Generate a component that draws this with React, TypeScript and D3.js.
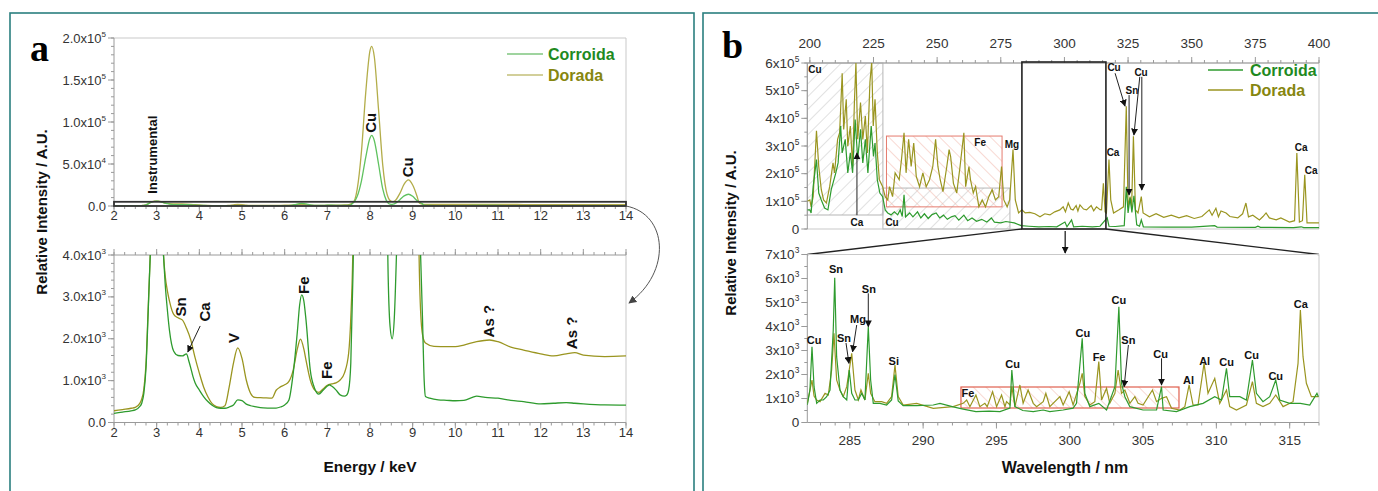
import React from 'react';
import * as d3 from 'd3';

// ---------------- DATA ----------------
// Panel a: XRF spectra (energy keV, intensity)
const xrfCorroida: [number, number][] = [
  [2.0,220],[2.2,250],[2.4,280],[2.5,300],[2.6,380],[2.65,460],[2.7,700],[2.75,1300],[2.8,2600],[2.85,4000],[2.9,5000],[2.95,5600],[3.0,5800],[3.05,5600],[3.1,5000],[3.16,4000],[3.2,3300],[3.25,2700],[3.3,2200],[3.4,1700],[3.5,1600],[3.6,1590],[3.7,1640],[3.75,1480],[3.8,1300],[3.85,1100],[3.9,950],[4.0,776],[4.1,620],[4.2,500],[4.3,410],[4.4,355],[4.5,340],[4.6,340],[4.7,370],[4.8,420],[4.9,540],[5.0,520],[5.1,440],[5.2,400],[5.3,380],[5.5,350],[5.7,345],[5.8,345],[5.9,370],[6.0,420],[6.1,540],[6.2,1175],[6.3,2200],[6.35,2800],[6.4,3050],[6.45,2900],[6.5,2450],[6.6,1250],[6.7,820],[6.8,680],[6.9,770],[7.0,870],[7.05,900],[7.1,870],[7.2,780],[7.3,660],[7.4,630],[7.45,650],[7.5,780],[7.55,1420],[7.6,3500],[7.65,6500],[7.7,11500],[7.8,30000],[7.9,58000],[8.0,81000],[8.04,84000],[8.1,78000],[8.2,50000],[8.3,20000],[8.38,7000],[8.42,3800],[8.47,2300],[8.52,2000],[8.57,2500],[8.62,4000],[8.7,7500],[8.8,12000],[8.9,14000],[9.0,11500],[9.1,6500],[9.18,4200],[9.23,2500],[9.27,1000],[9.3,620],[9.4,580],[9.6,540],[9.8,530],[10.0,520],[10.2,530],[10.4,600],[10.5,630],[10.7,600],[11.0,580],[11.3,530],[11.6,500],[12.0,445],[12.3,460],[12.6,475],[12.8,460],[13.0,445],[13.5,420],[14.0,415]
];
const xrfDorada: [number, number][] = [
  [2.0,280],[2.2,310],[2.4,340],[2.5,360],[2.6,450],[2.65,560],[2.7,800],[2.75,1400],[2.8,2700],[2.85,4000],[2.9,5100],[2.95,5700],[3.0,5900],[3.05,5700],[3.1,5100],[3.16,4000],[3.2,3500],[3.25,3150],[3.3,2900],[3.4,2580],[3.5,2500],[3.6,2450],[3.7,2250],[3.8,1970],[3.9,1550],[4.0,1180],[4.1,850],[4.2,616],[4.3,450],[4.4,380],[4.5,360],[4.6,400],[4.7,850],[4.8,1420],[4.9,1780],[5.0,1530],[5.1,1015],[5.2,700],[5.3,600],[5.5,590],[5.7,580],[5.8,770],[5.9,850],[6.0,900],[6.1,980],[6.2,1250],[6.3,1770],[6.37,1990],[6.45,1750],[6.5,1490],[6.6,1015],[6.7,780],[6.8,720],[6.9,800],[7.0,890],[7.1,920],[7.2,945],[7.3,1015],[7.4,1180],[7.5,1660],[7.55,2500],[7.6,4200],[7.65,8500],[7.7,20000],[7.8,65000],[7.9,135000],[8.0,185000],[8.04,190000],[8.1,178000],[8.2,115000],[8.3,48000],[8.4,14000],[8.5,5500],[8.55,5200],[8.6,7000],[8.7,15000],[8.8,26000],[8.9,31000],[9.0,25000],[9.1,12000],[9.15,4000],[9.2,2400],[9.25,2000],[9.3,1900],[9.5,1820],[9.8,1810],[10.0,1810],[10.2,1850],[10.5,1930],[10.8,1970],[11.0,1930],[11.3,1800],[11.6,1730],[12.0,1640],[12.3,1590],[12.6,1640],[12.8,1670],[13.0,1610],[13.5,1575],[14.0,1590]
];

// Panel b: LIBS spectra, full range (wavelength nm, intensity)
const libsCorroida: [number, number][] = [
  [199,69e3],[200,69e3],[200.5,58e3],[201.3,153e3],[202.6,251e3],[203.5,130e3],[204.5,105e3],[205.8,76e3],[207.1,69e3],[208.4,142e3],[210.2,203e3],[211.1,239e3],[212.1,372e3],[212.7,275e3],[213.9,324e3],[214.9,203e3],[215.9,275e3],[216.8,203e3],[217.8,396e3],[218.8,251e3],[219.9,360e3],[220.8,239e3],[221.8,324e3],[222.8,203e3],[224.1,372e3],[225.0,262e3],[225.6,311e3],[226.5,178e3],[227.5,130e3],[228.6,117e3],[229.6,69e3],[230.6,58e3],[231.9,51e3],[233.2,62e3],[234.5,51e3],[235.5,69e3],[236.3,45e3],[237.0,124e3],[237.6,44e3],[239.2,58e3],[240.5,44e3],[242.3,62e3],[243.6,40e3],[245.0,55e3],[246.5,38e3],[248.0,52e3],[249.6,58e3],[251.0,40e3],[252.5,50e3],[254.0,35e3],[255.6,44e3],[257.0,48e3],[258.5,32e3],[260.5,50e3],[262.0,30e3],[263.7,40e3],[265.5,28e3],[267.5,35e3],[269.5,25e3],[271.3,40e3],[272.5,25e3],[275,22e3],[277,27e3],[280.3,22e3],[283,12e3],[286,10e3],[290,8e3],[294,9e3],[297,8e3],[300.2,25e3],[301,8e3],[302.8,33e3],[303.6,8e3],[307,10e3],[311,8e3],[314,10e3],[316.8,40e3],[317.5,10e3],[320,9e3],[323.5,12e3],[324.3,153e3],[325.0,58e3],[325.8,113e3],[326.5,60e3],[327.3,120e3],[328.4,15e3],[329.5,10e3],[330.2,33e3],[331,8e3],[340,7e3],[350,7e3],[359,12e3],[360,7e3],[375,6e3],[376,10e3],[377,6e3],[390,5e3],[393,8e3],[394,5e3],[400,5e3]
];
const libsDorada: [number, number][] = [
  [199,100e3],[200,105e3],[200.5,80e3],[201.3,117e3],[202.6,355e3],[203.5,226e3],[204.5,142e3],[205.4,105e3],[206.5,94e3],[207.8,154e3],[209.1,239e3],[209.7,203e3],[210.9,324e3],[211.7,348e3],[212.7,563e3],[213.3,360e3],[214.3,469e3],[214.9,299e3],[215.9,372e3],[216.8,226e3],[217.5,457e3],[218.1,600e3],[218.8,324e3],[219.9,457e3],[220.8,324e3],[221.8,408e3],[222.6,275e3],[223.6,530e3],[224.3,605e3],[224.9,372e3],[225.6,469e3],[226.5,275e3],[227.3,178e3],[228.6,153e3],[229.6,117e3],[230.6,105e3],[231.3,153e3],[232.5,117e3],[233.5,203e3],[235.1,178e3],[236.0,251e3],[237.0,348e3],[237.8,203e3],[238.8,324e3],[239.8,226e3],[240.8,311e3],[241.8,190e3],[243.1,153e3],[244.4,203e3],[245.7,153e3],[247.0,178e3],[248.3,226e3],[249.4,324e3],[250.3,226e3],[251.2,178e3],[252.3,135e3],[253.8,226e3],[254.7,287e3],[255.3,262e3],[256.4,165e3],[257.7,130e3],[259.0,226e3],[260.5,348e3],[261.2,153e3],[262.5,226e3],[263.1,178e3],[264.2,130e3],[265.1,153e3],[266.4,80e3],[267.7,105e3],[269.0,80e3],[270.3,117e3],[271.6,142e3],[272.9,105e3],[274.2,117e3],[275.3,226e3],[276.2,105e3],[277.5,80e3],[278.5,105e3],[279.8,287e3],[280.7,105e3],[282.0,58e3],[283.3,69e3],[284.6,58e3],[286.4,60e3],[288.4,55e3],[290.4,44e3],[292.3,55e3],[294.3,51e3],[296.2,62e3],[298.2,69e3],[299.5,80e3],[300.4,62e3],[301.5,94e3],[302.5,72e3],[303.4,69e3],[304.6,85e3],[305.3,65e3],[306.1,87e3],[307.5,72e3],[308.7,69e3],[310.5,85e3],[311.5,66e3],[312.6,80e3],[314.0,70e3],[314.6,69e3],[315.3,165e3],[316.0,62e3],[316.5,58e3],[317.5,251e3],[318.2,105e3],[319.3,58e3],[321.3,69e3],[323.2,80e3],[324.3,444e3],[325.0,80e3],[325.8,117e3],[326.4,80e3],[327.1,335e3],[327.9,69e3],[328.9,58e3],[330.2,117e3],[330.9,58e3],[333.4,44e3],[336,55e3],[339,42e3],[342,50e3],[345,40e3],[348,48e3],[351,38e3],[354,45e3],[356.9,69e3],[358,50e3],[359.5,75e3],[360.5,44e3],[361.5,65e3],[363.5,58e3],[365,45e3],[368.1,40e3],[370,55e3],[371.3,94e3],[372.3,44e3],[374,50e3],[376.6,33e3],[378,45e3],[379.2,58e3],[380.5,40e3],[383.2,33e3],[385,40e3],[388.4,25e3],[390.4,30e3],[391.3,275e3],[392.3,25e3],[393.5,30e3],[394.4,196e3],[395.3,22e3],[400,22e3]
];

// Panel b: LIBS zoom 282-317 nm
const libsZoomCorroida: [number, number][] = [
  [282.1,729],[282.28,1354],[282.42,3160],[282.56,1493],[282.74,799],[282.97,938],[283.19,938],[283.42,1076],[283.65,1354],[283.87,3854],[283.97,6035],[284.10,2743],[284.33,1354],[284.55,1076],[284.79,938],[284.96,2188],[285.13,1215],[285.35,938],[285.58,938],[285.81,1215],[286.03,938],[286.26,3993],[286.42,1771],[286.60,799],[287.06,799],[287.51,729],[287.85,938],[288.08,2000],[288.30,900],[288.64,700],[289.56,700],[290.69,729],[291.15,799],[292.05,650],[292.73,560],[293.60,451],[294.5,470],[295.24,451],[295.92,600],[296.05,2188],[296.26,660],[296.8,500],[297.51,451],[298.19,521],[298.64,451],[299.55,521],[300.23,600],[300.46,799],[300.85,3507],[301.03,1215],[301.37,660],[301.98,799],[302.51,521],[303.08,1493],[303.35,4826],[303.53,1632],[303.76,1076],[304.10,660],[305.00,521],[305.92,521],[306.26,1493],[306.37,521],[307.28,451],[308.19,660],[309.09,799],[309.89,1076],[310.35,938],[310.69,2257],[310.91,1076],[311.60,1076],[312.05,938],[312.46,2604],[312.73,1215],[313.18,868],[313.64,1076],[314.05,1771],[314.32,938],[315.00,799],[315.73,799],[316.37,729],[316.86,1215],[316.96,1076]
];
const libsZoomDorada: [number, number][] = [
  [282.1,799],[282.42,1771],[282.56,1100],[282.74,938],[282.97,868],[283.31,1215],[283.53,1146],[283.76,2188],[283.92,3715],[284.10,1771],[284.33,1354],[284.55,1076],[284.79,1493],[285.13,2882],[285.35,1354],[285.58,938],[285.76,1354],[286.03,938],[286.26,2049],[286.42,1215],[286.71,868],[287.17,868],[287.51,799],[287.85,1076],[288.08,2396],[288.30,1076],[288.64,729],[289.56,799],[290.69,590],[292.05,660],[292.73,799],[292.97,938],[293.19,660],[293.60,1146],[293.87,660],[294.21,799],[294.37,660],[294.74,1285],[295.01,660],[295.35,1146],[295.58,660],[295.69,868],[295.92,729],[296.05,1493],[296.26,660],[296.60,1563],[296.82,799],[297.16,1354],[297.51,799],[297.74,660],[298.19,868],[298.37,1215],[298.64,660],[299.33,1076],[299.55,729],[299.96,1285],[300.23,729],[300.69,1632],[300.85,2049],[301.03,1076],[301.37,729],[301.71,868],[301.98,2535],[302.17,938],[302.51,1424],[302.73,799],[303.08,1215],[303.30,2188],[303.53,1215],[303.76,1354],[304.10,799],[304.44,1076],[304.66,799],[305.00,729],[305.64,1354],[305.92,868],[306.26,1007],[306.60,1076],[306.94,590],[307.51,521],[307.85,660],[308.14,1563],[308.41,729],[308.75,729],[309.16,2465],[309.43,1215],[309.89,1840],[310.23,799],[310.69,1354],[310.91,660],[311.37,521],[312.05,729],[312.46,1702],[312.73,799],[313.18,660],[313.64,799],[314.05,1146],[314.55,660],[315.23,868],[315.57,2465],[315.73,4688],[315.91,2743],[316.14,1632],[316.48,1076],[316.96,1076]
];

const seriesNames = ['Corroida', 'Dorada'];

// Tick values
const energyTicks = [2, 3, 4, 5, 6, 7, 8, 9, 10, 11, 12, 13, 14];
const xrfTopTicks = [0, 5e4, 1e5, 1.5e5, 2e5];
const xrfBotTicks = [0, 1000, 2000, 3000, 4000];
const wlTopTicks = [200, 225, 250, 275, 300, 325, 350, 375, 400];
const libsTopTicks = [0, 1e5, 2e5, 3e5, 4e5, 5e5, 6e5];
const wlBotTicks = [285, 290, 295, 300, 305, 310, 315];
const libsBotTicks = [0, 1000, 2000, 3000, 4000, 5000, 6000, 7000];

// Annotations (data coordinates)
const xrfTopLabels = [
  { t: 'Instrumental', x: 2.91, y: 6.1e4, s: 13 },
  { t: 'Cu', x: 8.02, y: 9.9e4, s: 15 },
  { t: 'Cu', x: 8.87, y: 4.6e4, s: 15 },
];
const xrfBotLabels = [
  { t: 'Sn', x: 3.55, y: 2760 },
  { t: 'Ca', x: 4.13, y: 2640 },
  { t: 'V', x: 4.81, y: 2020 },
  { t: 'Fe', x: 6.45, y: 3280 },
  { t: 'Fe', x: 6.97, y: 1250 },
  { t: 'As ?', x: 10.77, y: 2420 },
  { t: 'As ?', x: 12.73, y: 2140 },
];
const xrfBotArrows = [{ x1: 4.02, y1: 2305, x2: 3.73, y2: 1684 }];

const libsTopLabels = [
  { t: 'Cu', x: 202.0, y: 575e3 }, { t: 'Ca', x: 218.5, y: 22e3 }, { t: 'Cu', x: 232.3, y: 25e3 },
  { t: 'Fe', x: 266.9, y: 314e3 }, { t: 'Mg', x: 279.4, y: 304e3 }, { t: 'Cu', x: 319.5, y: 582e3 },
  { t: 'Sn', x: 326.5, y: 502e3 }, { t: 'Cu', x: 330.1, y: 567e3 }, { t: 'Ca', x: 319.1, y: 278e3 },
  { t: 'Ca', x: 393.0, y: 296e3 }, { t: 'Ca', x: 396.9, y: 213e3 },
];
const libsTopArrows = [
  { x1: 218.5, y1: 50e3, x2: 218.5, y2: 275e3 },
  { x1: 319.9, y1: 563e3, x2: 323.8, y2: 444e3 },
  { x1: 325.4, y1: 484e3, x2: 325.4, y2: 123e3 },
  { x1: 329.6, y1: 550e3, x2: 327.3, y2: 340e3 },
  { x1: 330.4, y1: 550e3, x2: 330.4, y2: 141e3 },
];
const libsBotLabels = [
  { t: 'Cu', x: 282.56, y: 3438 }, { t: 'Sn', x: 284.06, y: 6396 }, { t: 'Sn', x: 284.6, y: 3521 },
  { t: 'Mg', x: 285.56, y: 4313 }, { t: 'Sn', x: 286.3, y: 5563 }, { t: 'Si', x: 288.0, y: 2563 },
  { t: 'Cu', x: 296.1, y: 2438 }, { t: 'Fe', x: 293.05, y: 1229 }, { t: 'Cu', x: 300.9, y: 3729 },
  { t: 'Fe', x: 302.0, y: 2729 }, { t: 'Cu', x: 303.35, y: 5104 }, { t: 'Sn', x: 304.0, y: 3438 },
  { t: 'Cu', x: 306.2, y: 2854 }, { t: 'Al', x: 308.1, y: 1771 }, { t: 'Al', x: 309.2, y: 2563 },
  { t: 'Cu', x: 310.7, y: 2521 }, { t: 'Cu', x: 312.4, y: 2813 }, { t: 'Cu', x: 314.05, y: 1938 },
  { t: 'Ca', x: 315.76, y: 4938 },
];
const libsBotArrows = [
  { x1: 284.74, y1: 3313, x2: 284.94, y2: 2467 },
  { x1: 285.47, y1: 4062, x2: 285.19, y2: 2950 },
  { x1: 286.26, y1: 5383, x2: 286.26, y2: 3992 },
  { x1: 304.0, y1: 3229, x2: 303.71, y2: 1492 },
  { x1: 306.26, y1: 2675, x2: 306.26, y2: 1563 },
];

// ---------------- SCALES ----------------
const xA = d3.scaleLinear().domain([2, 14]).range([114, 626]);
const yAT = d3.scaleLinear().domain([0, 2e5]).range([206, 38]);
const yAB = d3.scaleLinear().domain([0, 4000]).range([422.5, 255]);
const xBT = d3.scaleLinear().domain([199, 400]).range([807.3, 1319]);
const yBT = d3.scaleLinear().domain([0, 6e5]).range([229, 63]);
const xBB = d3.scaleLinear().domain([282.1, 317]).range([807.3, 1319]);
const yBB = d3.scaleLinear().domain([0, 7000]).range([422.5, 254.5]);

const FONT = 'Liberation Sans, Arial, Helvetica, sans-serif';
const GREEN = '#2e9b2e';
const OLIVE = '#9a9520';
const GREEN_L = '#5fc25f';
const OLIVE_L = '#b3ad4a';
const AXIS = '#9a9a9a';
const FRAME = '#c9c9c9';
const LABEL = '#333';

function mk(x: any, y: any, curve: any) {
  return d3.line<[number, number]>().x(d => x(d[0])).y(d => y(d[1])).curve(curve);
}

function Sci({ v, x, y, dec, anchor = 'end', size = 13 }: any) {
  if (v === 0) {
    return <text x={x} y={y} textAnchor={anchor} fontSize={size} fill={LABEL} fontFamily={FONT}>{dec ? '0.0' : '0'}</text>;
  }
  const e = Math.floor(Math.log10(v) + 1e-9);
  const m = v / Math.pow(10, e);
  return (
    <text x={x} y={y} textAnchor={anchor} fontSize={size} fill={LABEL} fontFamily={FONT}>
      {dec ? m.toFixed(1) : String(Math.round(m))}x10<tspan dy={-6} fontSize={size * 0.62}>{e}</tspan>
    </text>
  );
}

function YAxis({ x, scale, ticks, minorStep, dec, size = 13 }: any) {
  const [d0, d1] = scale.domain();
  const minors = d3.range(d0, d1 + minorStep / 2, minorStep);
  return (
    <g>
      <line x1={x} x2={x} y1={scale(d0)} y2={scale(d1)} stroke={AXIS} />
      {minors.map((m: number, i: number) => (
        <line key={'m' + i} x1={x - 3} x2={x} y1={scale(m)} y2={scale(m)} stroke={AXIS} />
      ))}
      {ticks.map((t: number) => (
        <g key={t}>
          <line x1={x - 6} x2={x} y1={scale(t)} y2={scale(t)} stroke={AXIS} />
          <Sci v={t} x={x - 8} y={scale(t) + 4.5} dec={dec} size={size} />
        </g>
      ))}
    </g>
  );
}

function XTicks({ y, scale, ticks, minorStep, dir, labelY, showLabels = true, size = 13 }: any) {
  const [d0, d1] = scale.domain();
  const start = Math.ceil(d0 / minorStep) * minorStep;
  const minors = d3.range(start, d1 + minorStep / 2, minorStep);
  return (
    <g>
      <line x1={scale(d0)} x2={scale(d1)} y1={y} y2={y} stroke={AXIS} />
      {minors.map((m: number, i: number) => (
        <line key={'m' + i} x1={scale(m)} x2={scale(m)} y1={y} y2={y + dir * 3} stroke={AXIS} />
      ))}
      {ticks.map((t: number) => (
        <g key={t}>
          <line x1={scale(t)} x2={scale(t)} y1={y} y2={y + dir * 6} stroke={AXIS} />
          {showLabels && (
            <text x={scale(t)} y={labelY} textAnchor="middle" fontSize={size} fill={LABEL} fontFamily={FONT}>{t}</text>
          )}
        </g>
      ))}
    </g>
  );
}

function RotLabel({ x, y, t, s = 15 }: any) {
  return (
    <text transform={`translate(${x},${y}) rotate(-90)`} textAnchor="middle" dominantBaseline="central"
      fontSize={s} fontWeight="bold" fontFamily={FONT} fill="#111">{t}</text>
  );
}

export default function App() {
  const aTopC = mk(xA, yAT, d3.curveMonotoneX)(xrfCorroida);
  const aTopD = mk(xA, yAT, d3.curveMonotoneX)(xrfDorada);
  const aBotC = mk(xA, yAB, d3.curveMonotoneX)(xrfCorroida);
  const aBotD = mk(xA, yAB, d3.curveMonotoneX)(xrfDorada);
  const bTopC = mk(xBT, yBT, d3.curveLinear)(libsCorroida);
  const bTopD = mk(xBT, yBT, d3.curveLinear)(libsDorada);
  const bBotC = mk(xBB, yBB, d3.curveLinear)(libsZoomCorroida);
  const bBotD = mk(xBB, yBB, d3.curveLinear)(libsZoomDorada);

  const zoomL = xBT(283.3), zoomR = xBT(316.3);

  return (
    <svg width={1378} height={491} style={{ position: 'absolute', left: 0, top: 0, background: '#fff' }}
      fontFamily={FONT}>
      <defs>
        <marker id="arr" viewBox="0 0 10 10" refX="9" refY="5" markerWidth="7" markerHeight="7"
          markerUnits="userSpaceOnUse" orient="auto">
          <path d="M0,0 L10,5 L0,10 z" fill="#111" />
        </marker>
        <marker id="arrG" viewBox="0 0 10 10" refX="9" refY="5" markerWidth="8" markerHeight="8"
          markerUnits="userSpaceOnUse" orient="auto">
          <path d="M0,0 L10,5 L0,10 z" fill="#444" />
        </marker>
        <pattern id="hatchGray" width="9" height="9" patternUnits="userSpaceOnUse" patternTransform="rotate(45)">
          <line x1="0" y1="0" x2="0" y2="9" stroke="#c4c4c4" strokeWidth="1" />
        </pattern>
        <pattern id="hatchRed" width="9" height="9" patternUnits="userSpaceOnUse" patternTransform="rotate(-45)">
          <line x1="0" y1="0" x2="0" y2="9" stroke="#f2b3a8" strokeWidth="1" />
        </pattern>
        <clipPath id="cAT"><rect x={114} y={38} width={512} height={168} /></clipPath>
        <clipPath id="cAB"><rect x={114} y={255} width={512} height={167.5} /></clipPath>
        <clipPath id="cBT"><rect x={807.3} y={63} width={511.7} height={166} /></clipPath>
        <clipPath id="cBB"><rect x={807.3} y={254.5} width={511.7} height={168} /></clipPath>
      </defs>

      {/* Panel borders */}
      <rect x={10} y={13} width={684} height={490} fill="none" stroke="#2b7f7f" strokeWidth={1.6} />
      <rect x={703} y={13} width={690} height={490} fill="none" stroke="#2b7f7f" strokeWidth={1.6} />

      {/* ---------- Panel a ---------- */}
      <text x={30} y={61} fontSize={38} fontWeight="bold" fontFamily="Liberation Serif, Times New Roman, serif">a</text>

      {/* top plot */}
      <line x1={114} x2={626} y1={38} y2={38} stroke={FRAME} />
      <line x1={626} x2={626} y1={38} y2={206} stroke={FRAME} />
      <YAxis x={114} scale={yAT} ticks={xrfTopTicks} minorStep={1e4} dec={true} />
      <XTicks y={206} scale={xA} ticks={energyTicks} minorStep={0.25} dir={1} labelY={220} />
      <g clipPath="url(#cAT)">
        <path d={aTopD || ''} fill="none" stroke={OLIVE_L} strokeWidth={1.3} />
        <path d={aTopC || ''} fill="none" stroke={GREEN_L} strokeWidth={1.3} />
      </g>
      <rect x={xA(2)} y={yAT(5000)} width={xA(14) - xA(2)} height={yAT(0) - yAT(5000)} fill="none" stroke="#333" strokeWidth={1.8} />
      {xrfTopLabels.map((l, i) => <RotLabel key={i} x={xA(l.x)} y={yAT(l.y)} t={l.t} s={l.s} />)}

      {/* legend a */}
      <line x1={507} x2={543} y1={54} y2={54} stroke="#9fd49f" strokeWidth={2} />
      <line x1={507} x2={543} y1={75} y2={75} stroke="#d2cf9a" strokeWidth={2} />
      <text x={548} y={60} fontSize={16} fontWeight="bold" fill="#1f8a1f">{seriesNames[0]}</text>
      <text x={548} y={81} fontSize={16} fontWeight="bold" fill="#86860f">{seriesNames[1]}</text>

      {/* curved arrow */}
      <path d="M626,206 C 668,214 672,272 629,303" fill="none" stroke="#555" strokeWidth={1} markerEnd="url(#arrG)" />

      {/* bottom plot */}
      <line x1={626} x2={626} y1={255} y2={422.5} stroke={FRAME} />
      <YAxis x={114} scale={yAB} ticks={xrfBotTicks} minorStep={200} dec={true} />
      <XTicks y={255} scale={xA} ticks={energyTicks} minorStep={0.25} dir={-1} labelY={0} showLabels={false} />
      <XTicks y={422.5} scale={xA} ticks={energyTicks} minorStep={0.25} dir={1} labelY={437} />
      <g clipPath="url(#cAB)">
        <path d={aBotD || ''} fill="none" stroke={OLIVE} strokeWidth={1.3} />
        <path d={aBotC || ''} fill="none" stroke={GREEN} strokeWidth={1.3} />
      </g>
      {xrfBotLabels.map((l, i) => <RotLabel key={i} x={xA(l.x)} y={yAB(l.y)} t={l.t} s={15} />)}
      {xrfBotArrows.map((a, i) => (
        <line key={i} x1={xA(a.x1)} y1={yAB(a.y1)} x2={xA(a.x2)} y2={yAB(a.y2)} stroke="#222" strokeWidth={1} markerEnd="url(#arr)" />
      ))}

      <text x={370} y={472} textAnchor="middle" fontSize={15.5} fontWeight="bold" fill="#111">Energy / keV</text>
      <text transform="translate(47,212) rotate(-90)" textAnchor="middle" fontSize={15} fontWeight="bold" fill="#111">Relative Intensity / A.U.</text>

      {/* ---------- Panel b ---------- */}
      <text x={722} y={58} fontSize={38} fontWeight="bold" fontFamily="Liberation Serif, Times New Roman, serif">b</text>

      {/* top plot */}
      <rect x={xBT(199)} y={yBT(6e5)} width={xBT(228.7) - xBT(199)} height={yBT(50.6e3) - yBT(6e5)} fill="url(#hatchGray)" stroke="#b5b5b5" />
      <rect x={xBT(228.7)} y={yBT(148e3)} width={xBT(278.6) - xBT(228.7)} height={yBT(0) - yBT(148e3)} fill="url(#hatchGray)" stroke="#b5b5b5" />
      <rect x={xBT(230.1)} y={yBT(336e3)} width={xBT(275.5) - xBT(230.1)} height={yBT(80e3) - yBT(336e3)} fill="url(#hatchRed)" stroke="#e57b6e" />
      <line x1={807.3} x2={1319} y1={63} y2={63} stroke={FRAME} />
      <line x1={1319} x2={1319} y1={63} y2={229} stroke={FRAME} />
      <line x1={807.3} x2={1319} y1={229} y2={229} stroke={FRAME} />
      <YAxis x={807.3} scale={yBT} ticks={libsTopTicks} minorStep={5e4} dec={false} size={13.5} />
      <XTicks y={63} scale={xBT} ticks={wlTopTicks} minorStep={5} dir={-1} labelY={48} size={13.5} />
      <g clipPath="url(#cBT)">
        <path d={bTopD || ''} fill="none" stroke={OLIVE} strokeWidth={1.2} />
        <path d={bTopC || ''} fill="none" stroke={GREEN} strokeWidth={1.2} />
      </g>
      <rect x={zoomL} y={62} width={zoomR - zoomL} height={229 - 62} fill="none" stroke="#222" strokeWidth={1.6} />
      <line x1={zoomL} y1={229} x2={807.3} y2={254.5} stroke="#222" strokeWidth={1.3} />
      <line x1={zoomR} y1={229} x2={1319} y2={254.5} stroke="#222" strokeWidth={1.3} />
      <line x1={xBT(300.3)} y1={231} x2={xBT(300.3)} y2={253} stroke="#222" strokeWidth={1.3} markerEnd="url(#arr)" />
      {libsTopArrows.map((a, i) => (
        <line key={i} x1={xBT(a.x1)} y1={yBT(a.y1)} x2={xBT(a.x2)} y2={yBT(a.y2)} stroke="#222" strokeWidth={1} markerEnd="url(#arr)" />
      ))}
      {libsTopLabels.map((l, i) => (
        <text key={i} x={xBT(l.x)} y={yBT(l.y) + 3.5} textAnchor="middle" fontSize={10} fontWeight="bold" fill="#111">{l.t}</text>
      ))}

      {/* legend b */}
      <line x1={1208} x2={1243} y1={70} y2={70} stroke={GREEN} strokeWidth={1.5} />
      <line x1={1208} x2={1243} y1={90} y2={90} stroke={OLIVE} strokeWidth={1.5} />
      <text x={1250} y={76} fontSize={16} fontWeight="bold" fill="#1f8a1f">{seriesNames[0]}</text>
      <text x={1250} y={96} fontSize={16} fontWeight="bold" fill="#86860f">{seriesNames[1]}</text>

      {/* bottom plot */}
      <rect x={xBB(292.58)} y={yBB(1479)} width={xBB(307.45) - xBB(292.58)} height={yBB(604) - yBB(1479)} fill="url(#hatchRed)" stroke="#e0604f" strokeWidth={1.2} />
      <line x1={807.3} x2={1319} y1={254.5} y2={254.5} stroke={FRAME} />
      <line x1={1319} x2={1319} y1={254.5} y2={422.5} stroke={FRAME} />
      <YAxis x={807.3} scale={yBB} ticks={libsBotTicks} minorStep={500} dec={false} size={13.5} />
      <XTicks y={422.5} scale={xBB} ticks={wlBotTicks} minorStep={1} dir={1} labelY={445} size={13.5} />
      <g clipPath="url(#cBB)">
        <path d={bBotD || ''} fill="none" stroke={OLIVE} strokeWidth={1.2} />
        <path d={bBotC || ''} fill="none" stroke={GREEN} strokeWidth={1.2} />
      </g>
      {libsBotArrows.map((a, i) => (
        <line key={i} x1={xBB(a.x1)} y1={yBB(a.y1)} x2={xBB(a.x2)} y2={yBB(a.y2)} stroke="#222" strokeWidth={1} markerEnd="url(#arr)" />
      ))}
      {libsBotLabels.map((l, i) => (
        <text key={i} x={xBB(l.x)} y={yBB(l.y) + 4} textAnchor="middle" fontSize={11} fontWeight="bold" fill="#111">{l.t}</text>
      ))}

      <text x={1065} y={473} textAnchor="middle" fontSize={16} fontWeight="bold" fill="#111">Wavelength / nm</text>
      <text transform="translate(736,233) rotate(-90)" textAnchor="middle" fontSize={15} fontWeight="bold" fill="#111">Relative Intensity / A.U.</text>
    </svg>
  );
}
